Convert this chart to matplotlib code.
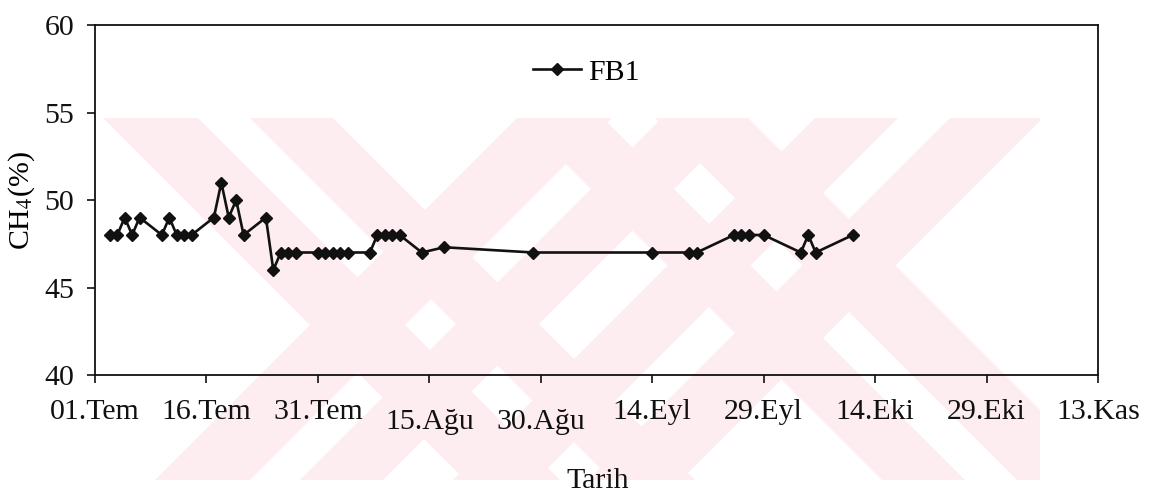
import numpy as np
import pandas as pd
import matplotlib
matplotlib.use("Agg")
import matplotlib.pyplot as plt
from matplotlib.patches import Polygon, Rectangle

# data (days are in 2001, the year is not shown)
dates = ["2001-07-03", "2001-07-04", "2001-07-05", "2001-07-06", "2001-07-07",
         "2001-07-10", "2001-07-11", "2001-07-12", "2001-07-13", "2001-07-14",
         "2001-07-17", "2001-07-18", "2001-07-19", "2001-07-20", "2001-07-21",
         "2001-07-24", "2001-07-25", "2001-07-26", "2001-07-27", "2001-07-28",
         "2001-07-31", "2001-08-01", "2001-08-02", "2001-08-03", "2001-08-04",
         "2001-08-07", "2001-08-08", "2001-08-09", "2001-08-10", "2001-08-11",
         "2001-08-14", "2001-08-17", "2001-08-29", "2001-09-14", "2001-09-19",
         "2001-09-20", "2001-09-25", "2001-09-26", "2001-09-27", "2001-09-29",
         "2001-10-04", "2001-10-05", "2001-10-06", "2001-10-11"]
fb1 = [48, 48, 49, 48, 49,
       48, 49, 48, 48, 48,
       49, 51, 49, 50, 48,
       49, 46, 47, 47, 47,
       47, 47, 47, 47, 47,
       47, 48, 48, 48, 48,
       47, 47.3, 47, 47, 47,
       47, 48, 48, 48, 48,
       47, 48, 47, 48]

tick_dates = ["2001-07-01", "2001-07-16", "2001-07-31", "2001-08-15", "2001-08-30",
              "2001-09-14", "2001-09-29", "2001-10-14", "2001-10-29", "2001-11-13"]
tick_labels = ["01.Tem", "16.Tem", "31.Tem", "15.Ağu", "30.Ağu",
               "14.Eyl", "29.Eyl", "14.Eki", "29.Eki", "13.Kas"]
y_ticks = [40, 45, 50, 55, 60]

plt.rcParams["font.family"] = ["Liberation Serif", "DejaVu Serif"]
plt.rcParams["mathtext.fontset"] = "stix"

W, H = 1152, 498
FS = 21.5
fig = plt.figure(figsize=(W / 100, H / 100), dpi=100)

# pale watermark behind the chart, in pixel coords (y down)
bg = fig.add_axes([0, 0, 1, 1], zorder=-1)
bg.set_xlim(0, W)
bg.set_ylim(H, 0)
bg.axis("off")
wm_top, wm_bot = 118, 480
clip = Rectangle((103, wm_top), 1040 - 103, wm_bot - wm_top, transform=bg.transData)
# each stripe: x of its two edges at the top row, and the slope sign
wm_stripes = [
    (103, 198, 1), (250, 333, 1),      # left X, "\" arm
    (517, 612, -1), (662, 745, -1),    # left X, "/" arm
    (520, 603, 1), (655, 748, 1),      # right X, "\" arm
    (815, 898, -1), (950, 1043, -1),   # right X, "/" arm
]
span = wm_bot - wm_top
for x0, x1, sgn in wm_stripes:
    dx = sgn * span
    poly = Polygon([(x0, wm_top), (x1, wm_top), (x1 + dx, wm_bot), (x0 + dx, wm_bot)],
                   closed=True, facecolor="#fdedf0", edgecolor="none")
    bg.add_patch(poly)
    poly.set_clip_path(clip)

ax = fig.add_axes([95 / W, 1 - 375 / H, 1003 / W, 350 / H])
ax.set_facecolor("none")

x = pd.to_datetime(dates)
ax.plot(x, fb1, color="#111111", lw=1.9, marker="D", ms=6.5, label="FB1")

ax.set_xlim(pd.Timestamp(tick_dates[0]), pd.Timestamp(tick_dates[-1]))
ax.set_ylim(40, 60)
ax.set_yticks(y_ticks)
ax.set_xticks(pd.to_datetime(tick_dates))
ax.set_xticklabels(tick_labels)
for lab in ax.get_xticklabels():
    if "ğ" in lab.get_text():
        lab.set_y(-0.03)

for s in ax.spines.values():
    s.set_linewidth(1.3)
    s.set_color("#111111")
ax.tick_params(axis="both", direction="out", length=6, width=1.2, labelsize=FS, colors="#111111")
ax.tick_params(axis="x", pad=11)
ax.tick_params(axis="y", pad=9)

ax.set_ylabel("CH$_4$(%)", fontsize=FS, labelpad=5)
fig.text(598 / W, 1 - 488 / H, "Tarih", fontsize=FS, ha="center", va="baseline",
         color="#111111")

ax.legend(loc="center", bbox_to_anchor=(0.49, 0.865), frameon=False, fontsize=FS,
          handlelength=1.6, handletextpad=0.25)

fig.savefig("out.png", dpi=100, facecolor="white")
